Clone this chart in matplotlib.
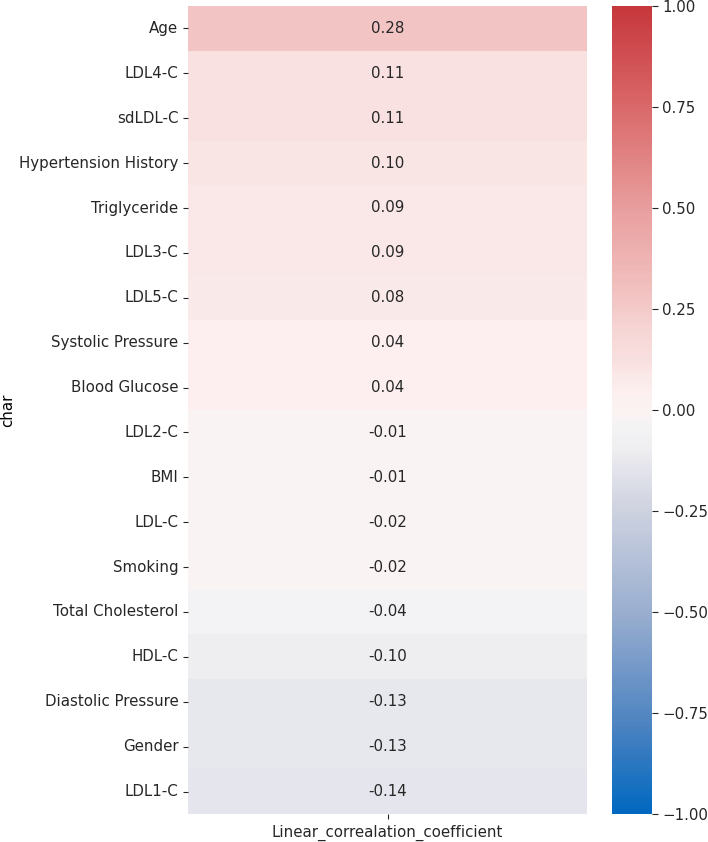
import matplotlib
matplotlib.use("Agg")
import matplotlib.pyplot as plt
import numpy as np
import pandas as pd
import seaborn as sns
from matplotlib.colors import LinearSegmentedColormap

chars = ["Age", "LDL4-C", "sdLDL-C", "Hypertension History", "Triglyceride",
         "LDL3-C", "LDL5-C", "Systolic Pressure", "Blood Glucose", "LDL2-C",
         "BMI", "LDL-C", "Smoking", "Total Cholesterol", "HDL-C",
         "Diastolic Pressure", "Gender", "LDL1-C"]
coef = [0.28, 0.11, 0.11, 0.10, 0.09, 0.09, 0.08, 0.04, 0.04, -0.01,
        -0.01, -0.02, -0.02, -0.04, -0.10, -0.13, -0.13, -0.14]

df = pd.DataFrame({"Linear_correalation_coefficient": coef},
                  index=pd.Index(chars, name="char"))

# colour anchors sampled from the reference colour bar
anchor_pos = [-1.0, -0.79, -0.51, -0.225, -0.13, -0.10, -0.04, -0.02, 0.04,
              0.09, 0.11, 0.21, 0.28, 0.49, 0.77, 1.0]
anchor_col = ["#0068c0", "#4a82c0", "#98adcf", "#d3d6e2", "#e7e7ee", "#eeeef0",
              "#f4f4f5", "#faf3f3", "#fdf0f0", "#fae8e8", "#f9e2e2", "#f5d4d3",
              "#f2c4c3", "#e9a0a0", "#d86566", "#c6373c"]
cmap = LinearSegmentedColormap.from_list(
    "ref", list(zip([(p + 1) / 2 for p in anchor_pos], anchor_col)), N=512)

W, H = 708, 842
fig = plt.figure(figsize=(W / 100, H / 100), dpi=100)
ax = fig.add_axes([188 / W, 1 - 814 / H, 399 / W, 808 / H])
cax = fig.add_axes([612 / W, 1 - 814 / H, 40 / W, 808 / H])

fs = 10.8
sns.heatmap(df, ax=ax, cbar_ax=cax, cmap=cmap, vmin=-1, vmax=1, center=0,
            annot=True, fmt=".2f", annot_kws={"fontsize": fs, "color": "#262626"})
ax.set_ylabel("char", fontsize=fs)
ax.set_xlabel("")
ax.yaxis.set_label_coords(-0.433, 0.5)
ax.tick_params(axis="both", labelsize=fs, colors="#262626", length=3.5, pad=3.5)
ax.tick_params(axis="x", pad=4.5)
cax.tick_params(labelsize=fs, colors="#262626", length=4)
for s in cax.spines.values():
    s.set_visible(False)

fig.savefig("out.png", dpi=100)
